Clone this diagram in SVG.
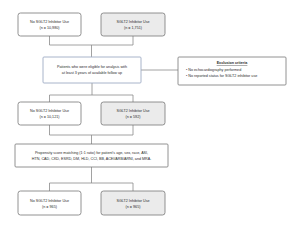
<svg xmlns="http://www.w3.org/2000/svg" width="300" height="230" viewBox="0 0 300 230">
<style>
text{font-family:"Liberation Sans",Arial,sans-serif;font-size:3.7px;fill:#2a2a2a;text-anchor:middle}
.w{fill:#fff;stroke:#777;stroke-width:0.8}
.g{fill:#ebebeb;stroke:#777;stroke-width:0.8}
.b{fill:#fff;stroke:#9eabc4;stroke-width:0.9}
.c{fill:none;stroke:#8a8a8a;stroke-width:0.8}
.l{text-anchor:start}
</style>
<rect width="300" height="230" fill="#fff"/>
<g id="connectors">
<path class="c" d="M49.5 36V45H133V36M91.5 45V57"/>
<path class="c" d="M141 70H178"/>
<path class="c" d="M92 83V95M49.5 95H133M49.5 95V102M133 95V102"/>
<path class="c" d="M49.5 125V135H133V125M91.5 135V144"/>
<path class="c" d="M91.5 167V183M49.5 183H133M49.5 183V191M133 183V191"/>
</g>
<g id="n1"><rect class="w" x="18" y="13" width="63" height="23" rx="2.5"/><text x="49.5" y="23">No SGLT2 Inhibitor Use</text><text x="49.5" y="29">(n = 10,980)</text></g>
<g id="n2"><rect class="g" x="101" y="13" width="64" height="23" rx="2.5"/><text x="133" y="23">SGLT2 Inhibitor Use</text><text x="133" y="29">(n = 1,751)</text></g>
<g id="n3"><rect class="b" x="43" y="57" width="98" height="26" rx="1"/><text x="92" y="68">Patients who were eligible for analysis with</text><text x="92" y="74">at least 3 years of available follow up</text></g>
<g id="n4"><rect class="w" x="178" y="57" width="108" height="28" rx="1"/><text x="232" y="64" font-weight="bold" text-decoration="underline">Exclusion criteria</text><text class="l" x="186" y="71">•  No echocardiography performed</text><text class="l" x="186" y="77">•  No reported status for SGLT2 inhibitor use</text></g>
<g id="n5"><rect class="w" x="18" y="102" width="63" height="23" rx="2.5"/><text x="49.5" y="112">No SGLT2 Inhibitor Use</text><text x="49.5" y="118">(n = 10,121)</text></g>
<g id="n6"><rect class="g" x="101" y="102" width="64" height="23" rx="2.5"/><text x="133" y="112">SGLT2 Inhibitor Use</text><text x="133" y="118">(n = 592)</text></g>
<g id="n7"><rect class="w" x="15" y="144" width="153" height="23" rx="1"/><text x="91.5" y="154">Propensity score matching (1:1 ratio) for patient's age, sex, race, ASI,</text><text x="91.5" y="160">HTN, CAD, CKD, ESRD, DM, HLD, CCI, BB, ACEI/ARB/ARNI, and MRA.</text></g>
<g id="n8"><rect class="w" x="18" y="191" width="63" height="24" rx="2.5"/><text x="49.5" y="201.5">No SGLT2 Inhibitor Use</text><text x="49.5" y="207.5">(n = 965)</text></g>
<g id="n9"><rect class="g" x="101" y="191" width="64" height="24" rx="2.5"/><text x="133" y="201.5">SGLT2 Inhibitor Use</text><text x="133" y="207.5">(n = 965)</text></g>
</svg>
